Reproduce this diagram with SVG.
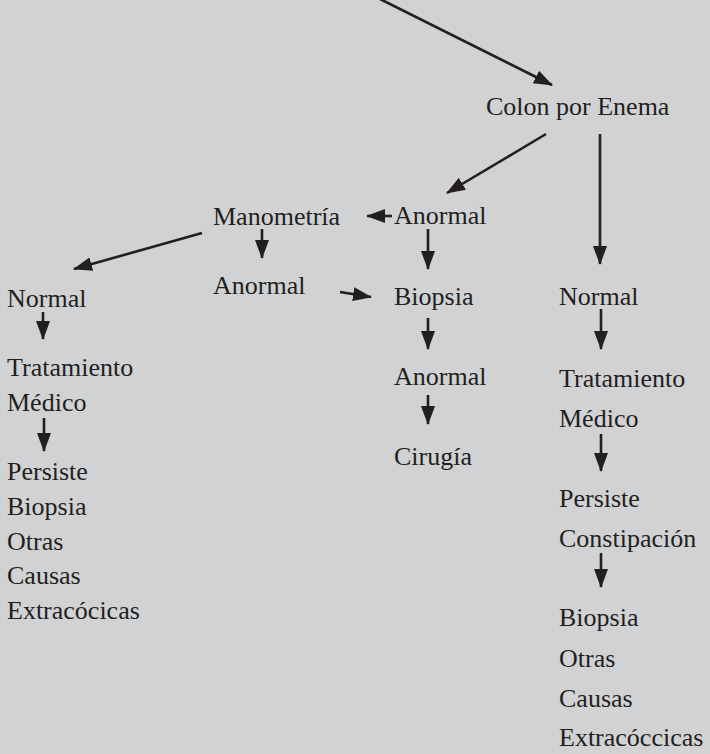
<svg xmlns="http://www.w3.org/2000/svg" width="710" height="754" viewBox="0 0 710 754">
<style>
text{font-family:"Liberation Serif","Times New Roman",serif;font-size:26px;fill:#231f20}
.c line{stroke:#231f20;stroke-width:2.6;marker-end:url(#ah)}
</style>
<defs>
<marker id="ah" markerUnits="userSpaceOnUse" markerWidth="20" markerHeight="15" refX="18" refY="7" orient="auto">
<path d="M0,0 L19,7 L0,14 Z" fill="#231f20"/>
</marker>
</defs>
<rect width="710" height="754" fill="#d1d2d4"/>
<g class="c" id="connectors">
<line x1="370" y1="-6" x2="552" y2="85"/>
<line x1="546" y1="134" x2="447" y2="193"/>
<line x1="600" y1="134" x2="600" y2="264"/>
<line x1="392" y1="216" x2="367" y2="216"/>
<line x1="428" y1="229" x2="428" y2="269"/>
<line x1="262" y1="229" x2="262" y2="258"/>
<line x1="202" y1="233" x2="74" y2="269"/>
<line x1="340" y1="292" x2="371" y2="297"/>
<line x1="43" y1="312" x2="43" y2="339"/>
<line x1="44" y1="418" x2="44" y2="451"/>
<line x1="428" y1="318" x2="428" y2="349"/>
<line x1="428" y1="395" x2="428" y2="424"/>
<line x1="601" y1="309" x2="601" y2="349"/>
<line x1="601" y1="434" x2="601" y2="471"/>
<line x1="601" y1="553" x2="601" y2="587"/>
</g>
<g id="colon"><text x="486" y="115">Colon por Enema</text></g>
<g id="anormal1"><text x="394" y="224">Anormal</text></g>
<g id="manometria"><text x="213" y="225">Manometría</text></g>
<g id="anormal2"><text x="213" y="294">Anormal</text></g>
<g id="normal1"><text x="7" y="307">Normal</text></g>
<g id="tratamiento1"><text x="7" y="376">Tratamiento</text><text x="7" y="411">Médico</text></g>
<g id="persiste1"><text x="7" y="480">Persiste</text><text x="7" y="515">Biopsia</text><text x="7" y="550">Otras</text><text x="7" y="584">Causas</text><text x="7" y="619">Extracócicas</text></g>
<g id="biopsia"><text x="394" y="305">Biopsia</text></g>
<g id="anormal3"><text x="394" y="385">Anormal</text></g>
<g id="cirugia"><text x="394" y="465">Cirugía</text></g>
<g id="normal2"><text x="559" y="305">Normal</text></g>
<g id="tratamiento2"><text x="559" y="387">Tratamiento</text><text x="559" y="427">Médico</text></g>
<g id="persiste2"><text x="559" y="507">Persiste</text><text x="559" y="547">Constipación</text></g>
<g id="biopsia2"><text x="559" y="626">Biopsia</text><text x="559" y="667">Otras</text><text x="559" y="707">Causas</text><text x="559" y="746">Extracóccicas</text></g>
</svg>
